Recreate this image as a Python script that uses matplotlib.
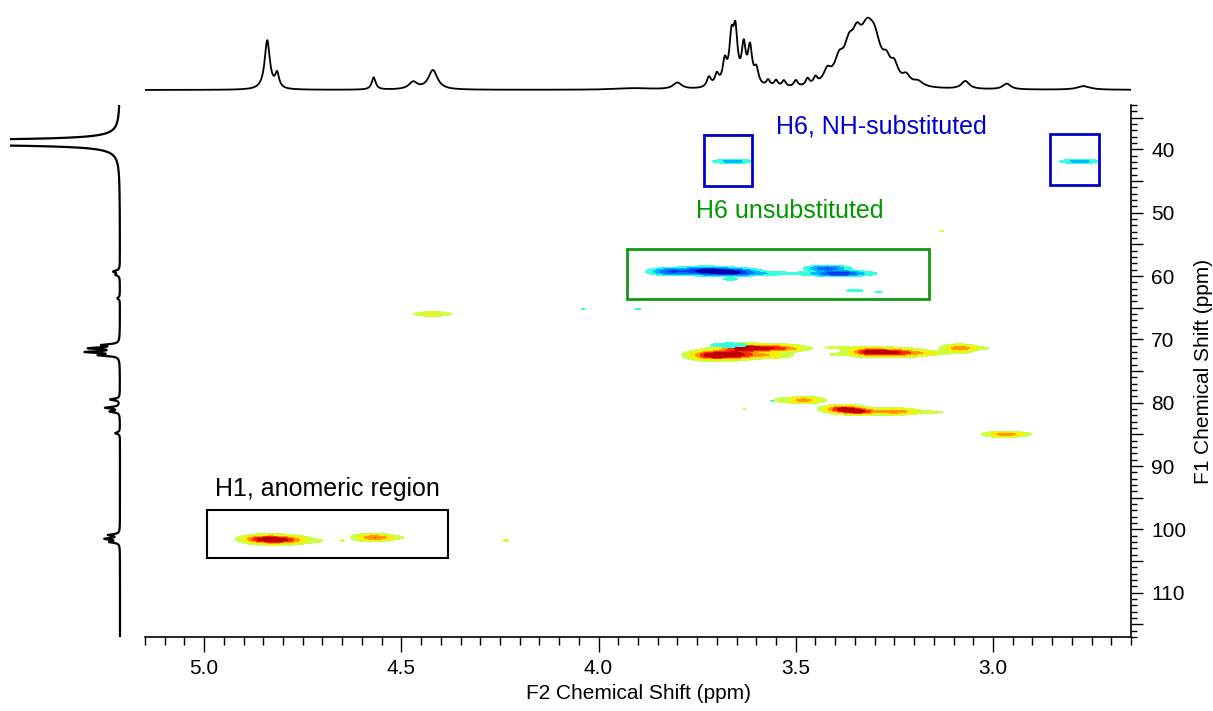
import numpy as np
import matplotlib
matplotlib.use('Agg')
from matplotlib import pyplot as plt
from matplotlib.patches import Rectangle
from matplotlib.ticker import MultipleLocator, FuncFormatter

NARROW = ['Liberation Sans Narrow', 'Liberation Sans', 'DejaVu Sans']
plt.rcParams['font.family'] = ['Liberation Sans', 'DejaVu Sans']

# axis ranges (ppm)
x_lim = (5.15, 2.65)
y_lim = (117, 33)

# 1H projection peaks: position, height, half width
h_pos = [4.84, 4.815, 4.57, 4.47, 4.42, 3.91, 3.80,
         3.72, 3.70, 3.68, 3.663, 3.653, 3.632, 3.616, 3.60,
         3.57, 3.55, 3.53, 3.50, 3.47, 3.45,
         3.42, 3.39, 3.365, 3.345, 3.32, 3.30, 3.27, 3.25, 3.22, 3.19,
         3.07, 2.965, 2.77]
h_amp = [0.68, 0.2, 0.17, 0.10, 0.27, 0.02, 0.09,
         0.14, 0.16, 0.32, 0.6, 0.68, 0.52, 0.5, 0.22,
         0.09, 0.09, 0.09, 0.09, 0.1, 0.1,
         0.18, 0.3, 0.4, 0.45, 0.55, 0.5, 0.22, 0.22, 0.12, 0.07,
         0.11, 0.08, 0.05]
h_wid = [0.008, 0.006, 0.006, 0.013, 0.014, 0.05, 0.013,
         0.0065, 0.0065, 0.0065, 0.0065, 0.0065, 0.0065, 0.0065, 0.007,
         0.006, 0.006, 0.006, 0.006, 0.006, 0.006,
         0.012, 0.015, 0.015, 0.015, 0.02, 0.02, 0.012, 0.012, 0.012, 0.015,
         0.012, 0.012, 0.02]

# 13C projection peaks: position, height, half width
c_pos = [38.9, 59.3, 59.8, 63.5, 70.9, 71.4, 72.0, 72.5,
         79.5, 80.8, 81.4, 84.8, 100.9, 101.5, 102.0]
c_amp = [360, 0.2, 0.12, 0.08, 0.5, 0.9, 1.0, 0.6,
         0.3, 0.45, 0.3, 0.15, 0.35, 0.45, 0.3]
c_wid = [0.05, 0.2, 0.18, 0.18, 0.15, 0.15, 0.15, 0.15,
         0.15, 0.15, 0.15, 0.15, 0.15, 0.15, 0.15]

# positive (CH/CH3) cross peaks: x, y, sx, sy, amp
pos_x = [4.835, 4.78, 4.88, 4.72, 4.57, 4.53, 4.65, 4.235, 4.42,
         3.71, 3.65, 3.63, 3.55, 3.58, 3.50, 3.38, 3.40, 3.31, 3.24, 3.17, 3.12, 3.085, 3.04,
         3.48, 3.54, 3.38, 3.34, 3.25, 3.17, 2.97, 2.93, 3.13, 3.63]
pos_y = [101.6, 101.7, 101.5, 101.8, 101.3, 101.3, 101.8, 101.8, 66.0,
         72.5, 72.4, 71.4, 71.4, 72.5, 71.5, 71.3, 72.4, 72.0, 72.1, 72.2, 72.1, 71.4, 71.4,
         79.6, 79.6, 81.0, 81.4, 81.4, 81.5, 85.0, 85.0, 52.9, 81.0]
pos_sx = [0.035, 0.03, 0.02, 0.02, 0.03, 0.03, 0.005, 0.008, 0.03,
          0.035, 0.03, 0.04, 0.04, 0.04, 0.02, 0.04, 0.015, 0.035, 0.04, 0.03, 0.04, 0.025, 0.025,
          0.03, 0.01, 0.03, 0.03, 0.035, 0.04, 0.03, 0.02, 0.005, 0.004]
pos_sy = [0.42, 0.38, 0.3, 0.22, 0.34, 0.19, 0.15, 0.15, 0.22,
          0.45, 0.45, 0.38, 0.34, 0.3, 0.15, 0.15, 0.15, 0.4, 0.38, 0.22, 0.15, 0.34, 0.15,
          0.3, 0.22, 0.34, 0.3, 0.3, 0.15, 0.26, 0.15, 0.15, 0.15]
pos_a = [1.0, 0.45, 0.2, 0.12, 0.6, 0.12, 0.12, 0.12, 0.3,
         1.0, 0.7, 0.9, 0.7, 0.45, 0.15, 0.15, 0.12, 0.9, 0.75, 0.2, 0.12, 0.6, 0.15,
         0.55, 0.15, 0.9, 0.8, 0.6, 0.15, 0.55, 0.12, 0.12, 0.12]

# negative (CH2) cross peaks
neg_x = [3.66, 2.78, 3.82, 3.73, 3.66, 3.55, 3.42, 3.39, 3.665, 3.35, 3.29, 3.31,
         3.67, 3.90, 4.04, 3.56]
neg_y = [41.9, 41.9, 59.3, 59.2, 59.4, 59.6, 58.8, 59.6, 60.5, 62.3, 62.5, 59.6,
         70.9, 65.2, 65.2, 79.7]
neg_sx = [0.03, 0.03, 0.03, 0.04, 0.04, 0.07, 0.03, 0.04, 0.015, 0.02, 0.01, 0.01,
          0.03, 0.008, 0.005, 0.005]
neg_sy = [0.2, 0.2, 0.32, 0.36, 0.34, 0.17, 0.26, 0.26, 0.15, 0.15, 0.15, 0.15,
          0.22, 0.15, 0.12, 0.15]
neg_a = [0.35, 0.35, 0.6, 0.9, 0.8, 0.2, 0.65, 0.8, 0.15, 0.14, 0.12, 0.1,
         0.25, 0.12, 0.12, 0.1]

levels = [0.08, 0.25, 0.45, 0.65, 0.85, 10]
pos_colors = ['#ccff44', '#ffee00', '#ff9900', '#ff2a00', '#c00000']
neg_colors = ['#33ffdd', '#00b4ff', '#0070ff', '#0038ee', '#0000aa']


def field(X, Y, cx, cy, sx, sy, a):
    Z = np.zeros_like(X)
    for i in range(len(cx)):
        Z += a[i] * np.exp(-0.5 * ((X - cx[i]) / sx[i]) ** 2 - 0.5 * ((Y - cy[i]) / sy[i]) ** 2)
    return Z


def lorentz(x, c, a, w):
    s = np.zeros_like(x)
    for i in range(len(c)):
        s += a[i] * w[i] ** 2 / ((x - c[i]) ** 2 + w[i] ** 2)
    return s


fig = plt.figure(figsize=(12.13, 7.11), dpi=100)
W, H = 1213.0, 711.0

ax = fig.add_axes([145 / W, 1 - 637 / H, 986 / W, 532 / H])
xs = np.linspace(x_lim[1], x_lim[0], 1400)
ys = np.linspace(y_lim[1], y_lim[0], 1000)
X, Y = np.meshgrid(xs, ys)
ax.contourf(X, Y, field(X, Y, pos_x, pos_y, pos_sx, pos_sy, pos_a), levels=levels, colors=pos_colors)
ax.contourf(X, Y, field(X, Y, neg_x, neg_y, neg_sx, neg_sy, neg_a), levels=levels, colors=neg_colors)
ax.set_xlim(x_lim)
ax.set_ylim(y_lim)

for s in ['top', 'left']:
    ax.spines[s].set_visible(False)
for s in ['bottom', 'right']:
    ax.spines[s].set_linewidth(1.2)
ax.yaxis.tick_right()
ax.yaxis.set_label_position('right')
ax.xaxis.set_major_locator(MultipleLocator(0.5))
ax.xaxis.set_minor_locator(MultipleLocator(0.05))
ax.xaxis.set_major_formatter(FuncFormatter(lambda v, p: f'{v:.1f}'))
ax.yaxis.set_major_locator(MultipleLocator(5))
ax.yaxis.set_minor_locator(MultipleLocator(1))
ax.yaxis.set_major_formatter(FuncFormatter(lambda v, p: f'{v:.0f}' if round(v) % 10 == 0 else ''))
ax.tick_params(axis='x', which='major', length=11, width=1, pad=5, direction='out')
ax.tick_params(axis='x', which='minor', length=6, width=1, direction='out')
ax.tick_params(axis='y', which='major', length=8.5, width=1, pad=6, direction='out')
ax.tick_params(axis='y', which='minor', length=4.5, width=1, direction='out')
for lab in ax.get_xticklabels() + ax.get_yticklabels():
    lab.set_fontfamily(NARROW)
    lab.set_fontsize(15)
ax.set_xlabel('F2 Chemical Shift (ppm)', fontsize=15, family=NARROW, labelpad=4)
ax.set_ylabel('F1 Chemical Shift (ppm)', fontsize=15)
ax.yaxis.set_label_coords((1194 - 145) / 986, 0.5)

# annotation boxes
ax.add_patch(Rectangle((4.383, 96.9), 4.9925 - 4.383, 104.6 - 96.9, fill=False, ec='black', lw=1.5))
ax.add_patch(Rectangle((3.161, 55.7), 3.929 - 3.161, 63.6 - 55.7, fill=False, ec='#119911', lw=2))
ax.add_patch(Rectangle((3.61, 37.8), 3.733 - 3.61, 45.8 - 37.8, fill=False, ec='#0000cc', lw=2))
ax.add_patch(Rectangle((2.732, 37.6), 2.855 - 2.732, 45.6 - 37.6, fill=False, ec='#0000cc', lw=2))
ax.text(4.688, 93.6, 'H1, anomeric region', fontsize=18, family=NARROW, color='black', ha='center', va='center')
ax.text(3.514, 49.8, 'H6 unsubstituted', fontsize=18, family=NARROW, color='#009900', ha='center', va='center')
ax.text(3.283, 36.4, 'H6, NH-substituted', fontsize=18, family=NARROW, color='#0000cc', ha='center', va='center')

# top 1H projection
ax_top = fig.add_axes([145 / W, 1 - 92 / H, 986 / W, 80 / H])
hx = np.linspace(x_lim[1], x_lim[0], 3000)
ax_top.plot(hx, lorentz(hx, h_pos, h_amp, h_wid), color='black', lw=1.3)
ax_top.set_xlim(x_lim)
ax_top.set_ylim(-0.028, 1.083)
ax_top.axis('off')

# left 13C projection
ax_left = fig.add_axes([10 / W, 1 - 637 / H, 118 / W, 532 / H])
cy = np.linspace(y_lim[1], y_lim[0], 5000)
ax_left.plot(lorentz(cy, c_pos, c_amp, c_wid), cy, color='black', lw=1.6)
ax_left.set_xlim(3.44, -0.25)
ax_left.set_ylim(y_lim)
ax_left.axis('off')

fig.savefig('out.png', dpi=100)
